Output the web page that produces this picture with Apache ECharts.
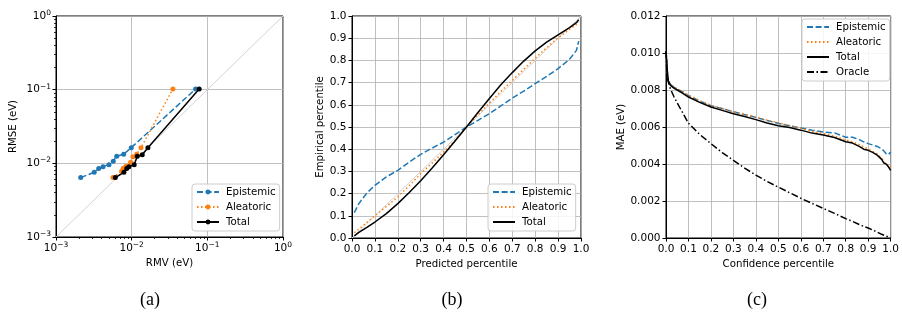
<!DOCTYPE html>
<html><head><meta charset="utf-8">
<script src="https://cdn.jsdelivr.net/npm/echarts@6/dist/echarts.min.js"></script>
<style>html,body{margin:0;padding:0;background:#fff}#c{width:902px;height:320px}</style>
</head><body><div id="c"></div>
<script>
// ---------- Panel (a): RMSE vs RMV (log-log) ----------
const aEpiRMV  = [0.00212, 0.0032, 0.00367, 0.00418, 0.00501, 0.00571, 0.00634, 0.00784, 0.00988, 0.070];
const aEpiRMSE = [0.0064, 0.00757, 0.00848, 0.00902, 0.0096, 0.01067, 0.01248, 0.01328, 0.01633, 0.102];
const aAleRMV  = [0.00566, 0.00738, 0.00775, 0.0084, 0.0097, 0.0104, 0.01165, 0.01327, 0.0351];
const aAleRMSE = [0.0064, 0.00789, 0.00858, 0.0091, 0.01035, 0.0123, 0.0133, 0.0163, 0.102];
const aTotRMV  = [0.00608, 0.0079, 0.0086, 0.0092, 0.0108, 0.01186, 0.0138, 0.0164, 0.078];
const aTotRMSE = [0.0064, 0.00757, 0.00848, 0.009, 0.0096, 0.0125, 0.0131, 0.0163, 0.102];
const aMinorTicks = [0.002,0.003,0.004,0.005,0.006,0.007,0.008,0.009,
                     0.02,0.03,0.04,0.05,0.06,0.07,0.08,0.09,
                     0.2,0.3,0.4,0.5,0.6,0.7,0.8,0.9];

// ---------- Panel (b): calibration curve ----------
const bPred = [0.01, 0.03, 0.065, 0.1, 0.15, 0.2, 0.25, 0.3, 0.35, 0.4, 0.45, 0.5,
               0.55, 0.6, 0.65, 0.7, 0.75, 0.8, 0.85, 0.9, 0.95, 0.98, 0.99];
const bEpi  = [0.114, 0.155, 0.203, 0.237, 0.275, 0.305, 0.342, 0.377, 0.405, 0.432, 0.466, 0.5,
               0.53, 0.56, 0.595, 0.63, 0.662, 0.695, 0.728, 0.763, 0.805, 0.845, 0.887];
const bAle  = [0.024, 0.04, 0.07, 0.1, 0.142, 0.185, 0.236, 0.29, 0.338, 0.387, 0.44, 0.5,
               0.555, 0.607, 0.66, 0.71, 0.76, 0.81, 0.857, 0.902, 0.94, 0.962, 0.972];
const bTot  = [0.01, 0.025, 0.048, 0.072, 0.11, 0.155, 0.205, 0.258, 0.315, 0.375, 0.437, 0.5,
               0.565, 0.628, 0.69, 0.745, 0.797, 0.843, 0.882, 0.915, 0.948, 0.97, 0.983];

// ---------- Panel (c): MAE vs confidence percentile ----------
const cConf = [0, 0.003, 0.006, 0.01, 0.02, 0.035, 0.05, 0.075, 0.1, 0.15, 0.2, 0.25, 0.3, 0.35,
               0.4, 0.45, 0.5, 0.55, 0.6, 0.65, 0.7, 0.75, 0.8, 0.83, 0.86, 0.88, 0.9, 0.92,
               0.94, 0.96, 0.97, 0.98, 0.99, 1.0];
const cTot = [0.0101, 0.0096, 0.0090, 0.0085, 0.00825, 0.0081, 0.0080, 0.00782, 0.00762, 0.00733,
              0.00708, 0.0069, 0.00672, 0.00657, 0.0064, 0.00622, 0.00607, 0.00597, 0.00583, 0.00567,
              0.00557, 0.00543, 0.0052, 0.00513, 0.00495, 0.0048, 0.00474, 0.00463, 0.00448, 0.00425,
              0.00405, 0.0040, 0.00385, 0.00366];
const cAle = [0.0101, 0.0096, 0.0090, 0.00855, 0.00832, 0.00817, 0.00807, 0.0079, 0.00772, 0.00742,
              0.00717, 0.0070, 0.00682, 0.00668, 0.00653, 0.00637, 0.00623, 0.00608, 0.00593, 0.00577,
              0.00565, 0.0055, 0.0053, 0.0052, 0.00505, 0.00492, 0.00483, 0.00468, 0.00455, 0.00432,
              0.00412, 0.00398, 0.00395, 0.0038];
const cEpi = [0.0101, 0.0096, 0.0090, 0.0085, 0.0083, 0.00815, 0.00805, 0.00788, 0.0077, 0.0074,
              0.00715, 0.0070, 0.00682, 0.00667, 0.00652, 0.00635, 0.0062, 0.00606, 0.00595, 0.00583,
              0.00573, 0.00568, 0.00545, 0.00545, 0.00532, 0.0052, 0.0051, 0.00503, 0.00495, 0.00482,
              0.0047, 0.00455, 0.0045, 0.00465];
const cOra = [0.0101, 0.0092, 0.0088, 0.00845, 0.00805, 0.00765, 0.0073, 0.00675, 0.0062, 0.0056,
              0.0051, 0.00462, 0.0042, 0.00378, 0.0034, 0.00306, 0.00275, 0.00245, 0.00215, 0.00187,
              0.0016, 0.00133, 0.00105, 0.0009, 0.00073, 0.00063, 0.00054, 0.00043, 0.00032, 0.0002,
              0.00015, 0.0001, 0.00005, 0.0];

// ---------- helpers ----------
const zip = (xs, ys) => xs.map((x, i) => [x, ys[i]]);
const FONT = 'DejaVu Sans';
const TICKFS = 10.5, LABFS = 10.2;
const BLUE = '#1f77b4', ORANGE = '#ff7f0e', BLACK = '#000000', DIAG = '#d3d3d3', GRIDC = '#b0b0b0';
const DASH = [6, 2.6], DOT = [1.5, 2.5], DASHDOT = [7, 2.5, 1.5, 2.5];

const supLabel = v => {
  const e = Math.round(Math.log10(v));
  return '{b|10}{s|' + (e < 0 ? '\u2212' + (-e) : String(e)) + '}';
};
const supRich = {
  b: {fontSize: TICKFS, fontFamily: FONT, color: '#000', lineHeight: 14},
  s: {fontSize: 7.5, fontFamily: FONT, color: '#000', lineHeight: 8, verticalAlign: 'top'}
};

const tickStyle = {show: true, length: 3.5, lineStyle: {color: '#000', width: 1}};
const lineAx = {show: true, onZero: false, lineStyle: {color: '#000', width: 1}};
const split = {show: true, lineStyle: {color: GRIDC, width: 0.8}};
const nameStyle = {fontSize: LABFS, fontFamily: FONT, color: '#000'};

function valAxis(grid, min, max, interval, digits, name, gap) {
  return {
    type: 'value', gridIndex: grid, min, max, interval,
    name, nameLocation: 'middle', nameGap: gap, nameTextStyle: nameStyle,
    axisLine: lineAx, axisTick: tickStyle, splitLine: split,
    axisLabel: {fontSize: TICKFS, fontFamily: FONT, color: '#000', margin: 5.5,
                formatter: v => v.toFixed(digits)}
  };
}
function minorLogAxis(pos) {
  return {type: 'log', gridIndex: 0, min: 0.001, max: 1, logBase: 10, position: pos, offset: 0,
          axisLine: {show: false}, axisLabel: {show: false}, splitLine: {show: false},
          axisTick: {show: true, customValues: aMinorTicks, length: 2, lineStyle: {color: '#000', width: 0.8}}};
}

const gridA = {left: 56, top: 16, width: 227, height: 221};
const gridB = {left: 352, top: 16, width: 229, height: 222};
const gridC = {left: 666, top: 16, width: 228, height: 222};
const gridCommon = {show: true, borderColor: '#000', borderWidth: 1, backgroundColor: 'transparent'};

const legendCommon = {
  orient: 'vertical', itemWidth: 22, itemHeight: 6, itemGap: 5,
  padding: [3, 4, 4, 4], borderColor: '#cccccc', borderWidth: 1, borderRadius: 3,
  backgroundColor: 'rgba(255,255,255,0.85)', selectedMode: false,
  textStyle: {fontSize: LABFS, fontFamily: FONT, color: '#000', lineHeight: 10, padding: [0, 0, 0, 2]},
  formatter: n => n.replace(/^[abc]_/, '')
};
const noMarker = {itemStyle: {opacity: 0}};

function lineSeries(name, xi, yi, data, color, type, withSym) {
  return {
    name, type: 'line', xAxisIndex: xi, yAxisIndex: yi, data,
    symbol: withSym ? 'circle' : 'none', symbolSize: 5, showSymbol: !!withSym,
    lineStyle: {color, width: 1.5, type}, itemStyle: {color},
    z: 3, silent: true
  };
}

const option = {
  animation: false,
  backgroundColor: '#fff',
  grid: [Object.assign({}, gridA, gridCommon), Object.assign({}, gridB, gridCommon), Object.assign({}, gridC, gridCommon)],
  xAxis: [
    {type: 'log', gridIndex: 0, min: 0.001, max: 1, logBase: 10, splitNumber: 3, position: 'bottom',
     name: 'RMV (eV)', nameLocation: 'middle', nameGap: 20, nameTextStyle: nameStyle,
     axisLine: lineAx, axisTick: tickStyle, splitLine: split,
     axisLabel: {margin: 4, formatter: supLabel, rich: supRich}},
    valAxis(1, 0, 1, 0.1, 1, 'Predicted percentile', 20),
    valAxis(2, 0, 1, 0.1, 1, 'Confidence percentile', 20),
    minorLogAxis('bottom')
  ],
  yAxis: [
    {type: 'log', gridIndex: 0, min: 0.001, max: 1, logBase: 10, splitNumber: 3, position: 'left',
     name: 'RMSE (eV)', nameLocation: 'middle', nameGap: 38, nameTextStyle: nameStyle,
     axisLine: lineAx, axisTick: tickStyle, splitLine: split,
     axisLabel: {margin: 5, formatter: supLabel, rich: supRich}},
    valAxis(1, 0, 1, 0.1, 1, 'Empirical percentile', 27),
    valAxis(2, 0, 0.012, 0.002, 3, 'MAE (eV)', 40),
    minorLogAxis('left')
  ],
  legend: [
    Object.assign({}, legendCommon, {data: ['a_Epistemic', 'a_Aleatoric', 'a_Total'], left: 192, top: 184}),
    Object.assign({}, legendCommon, noMarker, {data: ['b_Epistemic', 'b_Aleatoric', 'b_Total'], left: 488, top: 184}),
    Object.assign({}, legendCommon, noMarker, {data: ['c_Epistemic', 'c_Aleatoric', 'c_Total', 'c_Oracle'], left: 802, top: 19})
  ],
  graphic: [
    {type: 'text', x: 150, y: 300, style: {text: '(a)', font: '18px "Liberation Serif"', fill: '#000', textAlign: 'center', textVerticalAlign: 'middle'}},
    {type: 'text', x: 452, y: 300, style: {text: '(b)', font: '18px "Liberation Serif"', fill: '#000', textAlign: 'center', textVerticalAlign: 'middle'}},
    {type: 'text', x: 757, y: 300, style: {text: '(c)', font: '18px "Liberation Serif"', fill: '#000', textAlign: 'center', textVerticalAlign: 'middle'}}
  ],
  series: [
    {type: 'line', xAxisIndex: 0, yAxisIndex: 0, data: [[0.001, 0.001], [1, 1]], symbol: 'none',
     lineStyle: {color: DIAG, width: 1}, z: 1, silent: true},
    lineSeries('a_Epistemic', 0, 0, zip(aEpiRMV, aEpiRMSE), BLUE, DASH, true),
    lineSeries('a_Aleatoric', 0, 0, zip(aAleRMV, aAleRMSE), ORANGE, DOT, true),
    lineSeries('a_Total', 0, 0, zip(aTotRMV, aTotRMSE), BLACK, 'solid', true),

    {type: 'line', xAxisIndex: 1, yAxisIndex: 1, data: [[0, 0], [1, 1]], symbol: 'none',
     lineStyle: {color: DIAG, width: 1}, z: 1, silent: true},
    lineSeries('b_Epistemic', 1, 1, zip(bPred, bEpi), BLUE, DASH, false),
    lineSeries('b_Aleatoric', 1, 1, zip(bPred, bAle), ORANGE, DOT, false),
    lineSeries('b_Total', 1, 1, zip(bPred, bTot), BLACK, 'solid', false),

    lineSeries('c_Epistemic', 2, 2, zip(cConf, cEpi), BLUE, DASH, false),
    lineSeries('c_Aleatoric', 2, 2, zip(cConf, cAle), ORANGE, DOT, false),
    lineSeries('c_Total', 2, 2, zip(cConf, cTot), BLACK, 'solid', false),
    lineSeries('c_Oracle', 2, 2, zip(cConf, cOra), BLACK, DASHDOT, false)
  ]
};

const chart = echarts.init(document.getElementById('c'), null, {renderer: 'canvas'});
chart.setOption(option);
</script></body></html>
